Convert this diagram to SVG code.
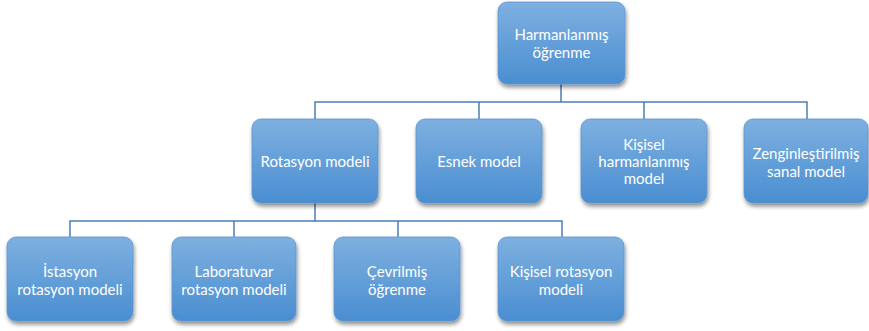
<svg xmlns="http://www.w3.org/2000/svg" width="869" height="331" viewBox="0 0 869 331">
<style>
.box{fill:url(#g);stroke:#5d95cf;stroke-width:0.8;filter:url(#sh)}
.t{font-family:Lato,"Open Sans",sans-serif;font-size:15px;fill:#ffffff;text-anchor:middle;dominant-baseline:central}
.c{fill:none;stroke:#4a7fb8;stroke-width:1.5}
</style>
<defs>
<linearGradient id="g" x1="0" y1="0" x2="0" y2="1">
<stop offset="0" stop-color="#7eb0e0"/>
<stop offset="1" stop-color="#4a8ed1"/>
</linearGradient>
<filter id="sh" x="-10%" y="-10%" width="120%" height="130%">
<feGaussianBlur in="SourceAlpha" stdDeviation="2"/>
<feOffset dx="1" dy="3" result="b"/>
<feComponentTransfer><feFuncA type="linear" slope="0.45"/></feComponentTransfer>
<feMerge><feMergeNode/><feMergeNode in="SourceGraphic"/></feMerge>
</filter>
</defs>
<g id="connectors">
<path class="c" d="M561,84 V102 M315,119 V102 H807 V119 M479,102 V119 M644,102 V119"/>
<path class="c" d="M315,203 V221 M70,237 V221 H562 V237 M234,221 V237 M398,221 V237"/>
</g>
<g id="n0"><rect class="box" x="498" y="2" width="127" height="82" rx="9"/><text class="t" x="561.5" y="34">Harmanlanmış</text><text class="t" x="561.5" y="52">öğrenme</text></g>
<g id="n1"><rect class="box" x="252" y="119" width="126" height="84" rx="9"/><text class="t" x="315" y="161">Rotasyon modeli</text></g>
<g id="n2"><rect class="box" x="416" y="119" width="126" height="84" rx="9"/><text class="t" x="479" y="161">Esnek model</text></g>
<g id="n3"><rect class="box" x="581" y="119" width="126" height="84" rx="9"/><text class="t" x="644" y="144">Kişisel</text><text class="t" x="644" y="161">harmanlanmış</text><text class="t" x="644" y="178">model</text></g>
<g id="n4"><rect class="box" x="744" y="119" width="124" height="84" rx="9"/><text class="t" x="806" y="153">Zenginleştirilmiş</text><text class="t" x="806" y="171">sanal model</text></g>
<g id="n5"><rect class="box" x="7" y="237" width="126" height="84" rx="9"/><text class="t" x="70" y="271">İstasyon</text><text class="t" x="70" y="289">rotasyon modeli</text></g>
<g id="n6"><rect class="box" x="172" y="237" width="124" height="84" rx="9"/><text class="t" x="234" y="271">Laboratuvar</text><text class="t" x="234" y="289">rotasyon modeli</text></g>
<g id="n7"><rect class="box" x="334" y="237" width="126" height="84" rx="9"/><text class="t" x="397" y="271">Çevrilmiş</text><text class="t" x="397" y="289">öğrenme</text></g>
<g id="n8"><rect class="box" x="498" y="237" width="126" height="84" rx="9"/><text class="t" x="561" y="271">Kişisel rotasyon</text><text class="t" x="561" y="289">modeli</text></g>
</svg>
